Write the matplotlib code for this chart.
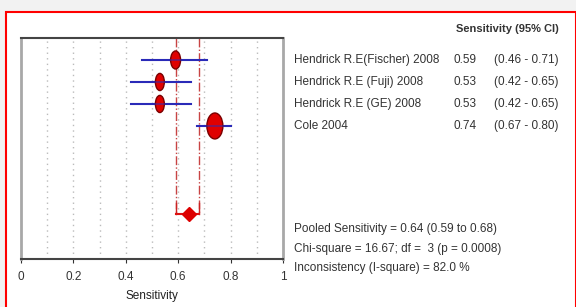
import numpy as np
import matplotlib
matplotlib.use('Agg')
import matplotlib.pyplot as plt
from matplotlib.patches import Ellipse, Rectangle

# study data
studies = ['Hendrick R.E(Fischer) 2008', 'Hendrick R.E (Fuji) 2008',
           'Hendrick R.E (GE) 2008', 'Cole 2004']
sens = [0.59, 0.53, 0.53, 0.74]
ci_low = [0.46, 0.42, 0.42, 0.67]
ci_high = [0.71, 0.65, 0.65, 0.80]
pooled = 0.64
pooled_low = 0.59
pooled_high = 0.68
chi_square = 16.67
df = 3
p_value = 0.0008
i_square = 82.0

plt.rcParams['font.family'] = ['Liberation Sans', 'DejaVu Sans']

W, H = 576, 307
fig = plt.figure(figsize=(W / 100, H / 100), dpi=100)
fig.patch.set_facecolor('#f2f2f2')

def px(x, y):  # pixel position -> figure fraction
    return x / W, 1 - y / H

# red frame
fig.patches.append(Rectangle(px(6, 320), 0.99, (320 - 12) / H, transform=fig.transFigure,
                             facecolor='white', edgecolor='red', linewidth=1.5, zorder=-5))

ax = fig.add_axes([21 / W, 1 - 259 / H, (283 - 21) / W, (259 - 38) / H])
ax.set_zorder(2)
ax.set_xlim(0, 1)
ax.set_ylim(10.05, 0)

rows = np.arange(1, len(studies) + 1)
pooled_row = 8

for g in np.arange(0.1, 1.0, 0.1):
    ax.axvline(g, color='#bbbbbb', linestyle=(0, (1, 3)), linewidth=1, zorder=1)

# pooled CI guide lines
for v in (pooled_low, pooled_high):
    ax.plot([v, v], [0, pooled_row], color='#c84444', linestyle='-.', linewidth=1, zorder=2)
    ax.plot([v, v], [pooled_row - 0.5, pooled_row], color='#cc2222', linewidth=1, zorder=3)
ax.plot([pooled_low, pooled_high], [pooled_row, pooled_row], color='#dd1111', linewidth=1.5, zorder=3)
ax.plot([pooled], [pooled_row], marker='D', color='#dd0000', markersize=7, zorder=4)

# study estimates
widths = [0.038, 0.034, 0.034, 0.061]
heights = [0.82, 0.78, 0.78, 1.18]
for i in range(len(studies)):
    ax.plot([ci_low[i], ci_high[i]], [rows[i], rows[i]], color='#2a2ab8', linewidth=1.5, zorder=3)
    ax.add_patch(Ellipse((sens[i], rows[i]), widths[i], heights[i], facecolor='#e00000',
                         edgecolor='#7a0000', linewidth=1, zorder=4))
    ax.plot([ci_low[i], ci_high[i]], [rows[i], rows[i]], color='#2a2ab8', linewidth=1.2,
            alpha=0.6, zorder=5)

ax.set_yticks([])
ax.set_xticks([0, 0.2, 0.4, 0.6, 0.8, 1])
ax.set_xticklabels(['0', '0.2', '0.4', '0.6', '0.8', '1'])
ax.tick_params(axis='x', length=3, pad=6, labelsize=8.5, colors='#333333')
ax.set_xlabel('Sensitivity', fontsize=8.5, labelpad=5, color='#222222')
ax.spines['top'].set_color('#444444')
ax.spines['top'].set_linewidth(1.5)
ax.spines['bottom'].set_color('#444444')
ax.spines['bottom'].set_linewidth(1.5)
ax.spines['left'].set_color('#a8a8a8')
ax.spines['left'].set_linewidth(2)
ax.spines['right'].set_color('#a8a8a8')
ax.spines['right'].set_linewidth(2)

# right-hand table
fs = 8.5
fig.text(*px(559, 29), 'Sensitivity (95% CI)', ha='right', va='center', fontsize=8,
         color='#333333', fontweight='bold')
row_y = [60, 82, 104, 126]
for i in range(len(studies)):
    fig.text(*px(294, row_y[i]), studies[i], ha='left', va='center', fontsize=fs, color='#333333')
    fig.text(*px(454, row_y[i]), f'{sens[i]:.2f}', ha='left', va='center', fontsize=fs, color='#333333')
    fig.text(*px(559, row_y[i]), f'({ci_low[i]:.2f} - {ci_high[i]:.2f})', ha='right', va='center',
             fontsize=fs, color='#333333')

fig.text(*px(294, 229), f'Pooled Sensitivity = {pooled:.2f} ({pooled_low:.2f} to {pooled_high:.2f})',
         ha='left', va='center', fontsize=fs, color='#333333')
fig.text(*px(294, 249), f'Chi-square = {chi_square:.2f}; df =  {df} (p = {p_value:.4f})',
         ha='left', va='center', fontsize=fs, color='#333333')
fig.text(*px(294, 268), f'Inconsistency (I-square) = {i_square:.1f} %',
         ha='left', va='center', fontsize=fs, color='#333333')

fig.savefig('out.png', dpi=100, facecolor=fig.get_facecolor())
